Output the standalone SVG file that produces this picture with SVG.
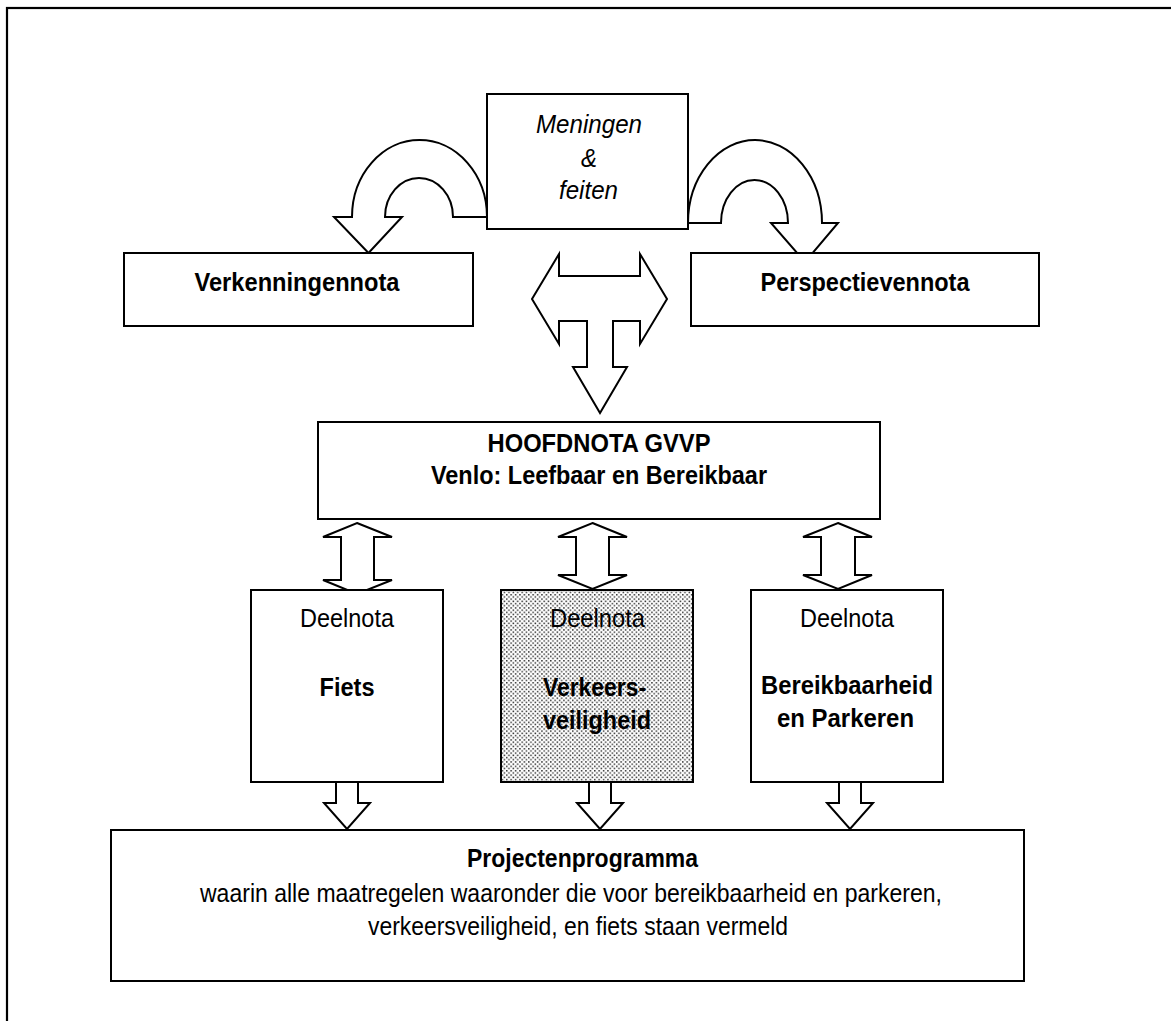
<svg xmlns="http://www.w3.org/2000/svg" width="1171" height="1021" viewBox="0 0 1171 1021">
<style>
.box{fill:#fff;stroke:#000;stroke-width:2}
.arr{fill:#fff;stroke:#000;stroke-width:2;stroke-linejoin:miter}
text{font-family:"Liberation Sans",Arial,sans-serif;font-size:26px;fill:#000}
.b{font-weight:bold}
.i{font-style:italic}
</style>
<defs>
<pattern id="dots" width="4.4" height="4.4" patternUnits="userSpaceOnUse">
<rect width="4.4" height="4.4" fill="#fff"/>
<rect x="0" y="0" width="1.5" height="1.5" fill="#333"/>
<rect x="2.2" y="2.2" width="1.5" height="1.5" fill="#333"/>
</pattern>
</defs>
<rect width="1171" height="1021" fill="#fff"/>
<rect x="7" y="8" width="1200" height="1100" fill="none" stroke="#000" stroke-width="2.2"/>
<g id="connectors">
<path class="arr" d="M487 217 A67.5 77 0 0 0 352 217 L334 217 L368.5 253 L402 217 L385 217 A34 39 0 0 1 453 217 Z"/>
<path class="arr" d="M688 223 A67 83 0 0 1 822 223 L838 223 L805 262 L771 223 L788 223 A33.5 43 0 0 0 721 223 Z"/>
<path class="arr" d="M532 299 L559 254 L559 276 L640 276 L640 254 L667 299 L640 344 L640 321 L613 321 L613 367 L627 367 L600 413 L573 367 L587 367 L587 321 L559 321 L559 344 Z"/>
<path class="arr" d="M357 523 L392 537 L374 537 L374 580 L392 580 L357 594 L323 580 L341 580 L341 537 L323 537 Z"/>
<path class="arr" d="M592.5 523 L627 537 L609 537 L609 575 L627 575 L592.5 589 L558 575 L576 575 L576 537 L558 537 Z"/>
<path class="arr" d="M838 523 L872 537 L855 537 L855 575 L872 575 L838 589 L803 575 L821 575 L821 537 L803 537 Z"/>
<path class="arr" d="M336 782 L358 782 L358 803 L370 803 L347 829 L324 803 L336 803 Z"/>
<path class="arr" d="M589 782 L611 782 L611 803 L623 803 L600 829 L577 803 L589 803 Z"/>
<path class="arr" d="M839 782 L861 782 L861 803 L873 803 L850 829 L827 803 L839 803 Z"/>
</g>
<g id="meningen">
<rect class="box" x="487" y="94" width="201" height="135"/>
<text class="i" x="536" y="133" textLength="106" lengthAdjust="spacingAndGlyphs">Meningen</text>
<text class="i" x="581" y="167" textLength="16" lengthAdjust="spacingAndGlyphs">&amp;</text>
<text class="i" x="559" y="199" textLength="59" lengthAdjust="spacingAndGlyphs">feiten</text>
</g>
<g id="verkenningennota">
<rect class="box" x="124" y="253" width="349" height="73"/>
<text class="b" x="194.5" y="291" textLength="205" lengthAdjust="spacingAndGlyphs">Verkenningennota</text>
</g>
<g id="perspectievennota">
<rect class="box" x="691" y="253" width="348" height="73"/>
<text class="b" x="760.5" y="291" textLength="209" lengthAdjust="spacingAndGlyphs">Perspectievennota</text>
</g>
<g id="hoofdnota">
<rect class="box" x="318" y="422" width="562" height="97"/>
<text class="b" x="487.5" y="452" textLength="223" lengthAdjust="spacingAndGlyphs">HOOFDNOTA GVVP</text>
<text class="b" x="431" y="484" textLength="336" lengthAdjust="spacingAndGlyphs">Venlo: Leefbaar en Bereikbaar</text>
</g>
<g id="deelnota-fiets">
<rect class="box" x="251" y="590" width="192" height="192"/>
<text x="300" y="627" textLength="94" lengthAdjust="spacingAndGlyphs">Deelnota</text>
<text class="b" x="319.5" y="696" textLength="55" lengthAdjust="spacingAndGlyphs">Fiets</text>
</g>
<g id="deelnota-verkeersveiligheid">
<rect class="box" x="501" y="590" width="192" height="192" style="fill:url(#dots)"/>
<text x="550" y="627" textLength="95" lengthAdjust="spacingAndGlyphs">Deelnota</text>
<text class="b" x="543" y="696" textLength="103" lengthAdjust="spacingAndGlyphs">Verkeers-</text>
<text class="b" x="543" y="729" textLength="108" lengthAdjust="spacingAndGlyphs">veiligheid</text>
</g>
<g id="deelnota-bereikbaarheid">
<rect class="box" x="751" y="590" width="192" height="192"/>
<text x="800" y="627" textLength="94" lengthAdjust="spacingAndGlyphs">Deelnota</text>
<text class="b" x="761" y="694" textLength="172" lengthAdjust="spacingAndGlyphs">Bereikbaarheid</text>
<text class="b" x="777" y="727" textLength="137" lengthAdjust="spacingAndGlyphs">en Parkeren</text>
</g>
<g id="projectenprogramma">
<rect class="box" x="111" y="830" width="913" height="151"/>
<text class="b" x="467" y="867" textLength="231" lengthAdjust="spacingAndGlyphs">Projectenprogramma</text>
<text x="200" y="902" textLength="742" lengthAdjust="spacingAndGlyphs">waarin alle maatregelen waaronder die voor bereikbaarheid en parkeren,</text>
<text x="368" y="935" textLength="420" lengthAdjust="spacingAndGlyphs">verkeersveiligheid, en fiets staan vermeld</text>
</g>
</svg>
